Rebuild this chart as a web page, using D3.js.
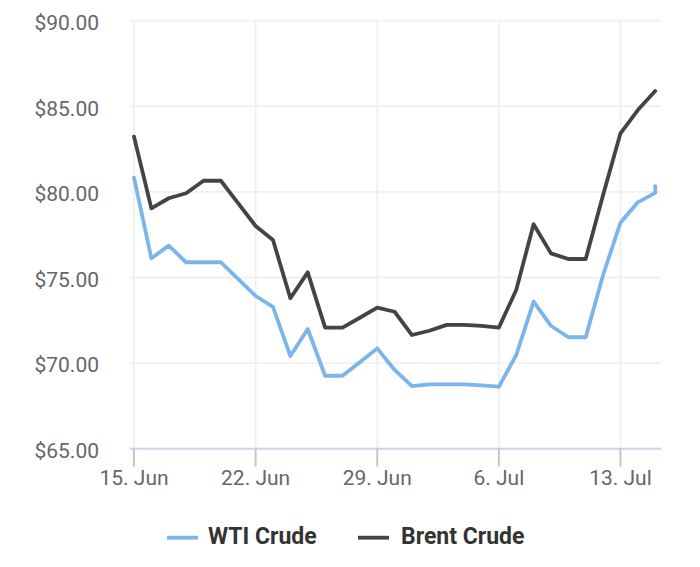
<!DOCTYPE html>
<html>
<head>
<meta charset="utf-8">
<script src="https://cdn.jsdelivr.net/npm/d3@7"></script>
<style>
  body { margin: 0; background: #fff; }
  svg { display: block; font-family: Roboto, "Noto Sans", sans-serif; }
</style>
</head>
<body>
<svg id="chart" width="700" height="567"></svg>
<script>
// daily closes, 15 Jun - 15 Jul
var dates = ["2020-06-15","2020-06-16","2020-06-17","2020-06-18","2020-06-19","2020-06-20","2020-06-21",
             "2020-06-22","2020-06-23","2020-06-24","2020-06-25","2020-06-26","2020-06-27","2020-06-28",
             "2020-06-29","2020-06-30","2020-07-01","2020-07-02","2020-07-03","2020-07-04","2020-07-05",
             "2020-07-06","2020-07-07","2020-07-08","2020-07-09","2020-07-10","2020-07-11","2020-07-12",
             "2020-07-13","2020-07-14","2020-07-15"];
// WTI has one extra reading on the last day
var wtiDates = dates.concat(["2020-07-15"]);
var wti = [80.83,76.12,76.86,75.89,75.89,75.89,74.90,
           73.92,73.29,70.41,71.99,69.26,69.26,70.05,
           70.86,69.60,68.66,68.76,68.76,68.76,68.70,
           68.62,70.47,73.59,72.18,71.51,71.51,75.15,
           78.20,79.39,79.94,80.34];
var brent = [83.23,79.04,79.63,79.92,80.65,80.65,79.33,
             78.01,77.19,73.79,75.30,72.07,72.07,72.65,
             73.24,73.00,71.64,71.89,72.23,72.23,72.17,
             72.07,74.27,78.11,76.41,76.08,76.08,79.82,
             83.42,84.78,85.89];
var seriesNames = ["WTI Crude", "Brent Crude"];
var seriesColors = ["#7cb5ec", "#434348"];
var tickDates = ["2020-06-15","2020-06-22","2020-06-29","2020-07-06","2020-07-13"];
var yTicks = [65, 70, 75, 80, 85, 90];

var parse = d3.timeParse("%Y-%m-%d");
var svg = d3.select("#chart");

var plotLeft = 130, plotRight = 661, plotTop = 20.7, plotBottom = 448.7;

var x = d3.scaleTime()
    .domain([parse(dates[0]), new Date(2020, 6, 15, 8)])
    .range([134, plotRight]);
var y = d3.scaleLinear().domain([65, 90]).range([plotBottom, plotTop]);

// grid
svg.append("g").selectAll("line")
    .data(yTicks).enter().append("line")
    .attr("x1", plotLeft).attr("x2", plotRight)
    .attr("y1", function(d) { return y(d); })
    .attr("y2", function(d) { return y(d); })
    .attr("stroke", "#f0f0f0").attr("stroke-width", 1.9);

svg.append("g").selectAll("line")
    .data(tickDates).enter().append("line")
    .attr("x1", function(d) { return x(parse(d)); })
    .attr("x2", function(d) { return x(parse(d)); })
    .attr("y1", plotTop).attr("y2", plotBottom)
    .attr("stroke", "#f0f0f0").attr("stroke-width", 1.9);

// x axis line + ticks
svg.append("line")
    .attr("x1", plotLeft).attr("x2", plotRight)
    .attr("y1", plotBottom).attr("y2", plotBottom)
    .attr("stroke", "#ccd6eb").attr("stroke-width", 1.9);

svg.append("g").selectAll("line")
    .data(tickDates).enter().append("line")
    .attr("x1", function(d) { return x(parse(d)); })
    .attr("x2", function(d) { return x(parse(d)); })
    .attr("y1", plotBottom).attr("y2", plotBottom + 18)
    .attr("stroke", "#c4c4c4").attr("stroke-width", 1.9);

var fmt = d3.timeFormat("%-d. %b");
svg.append("g").selectAll("text")
    .data(tickDates).enter().append("text")
    .attr("x", function(d) { return x(parse(d)); })
    .attr("y", 485)
    .attr("text-anchor", "middle")
    .attr("font-size", "21px")
    .attr("fill", "#666666")
    .text(function(d) { return fmt(parse(d)); });

// y labels
svg.append("g").selectAll("text")
    .data(yTicks).enter().append("text")
    .attr("x", 99)
    .attr("y", function(d) { return y(d) + 9.3; })
    .attr("text-anchor", "end")
    .attr("font-size", "21px")
    .attr("fill", "#666666")
    .text(function(d) { return "$" + d.toFixed(2); });

// lines
var line = d3.line()
    .x(function(d) { return x(d[0]); })
    .y(function(d) { return y(d[1]); });

var wtiData = wti.map(function(v, i) { return [parse(wtiDates[i]), v]; });
var brentData = brent.map(function(v, i) { return [parse(dates[i]), v]; });

[wtiData, brentData].forEach(function(data, i) {
    svg.append("path")
        .datum(data)
        .attr("d", line)
        .attr("fill", "none")
        .attr("stroke", seriesColors[i])
        .attr("stroke-width", 3.8)
        .attr("stroke-linejoin", "round")
        .attr("stroke-linecap", "round");
});

// legend
var legendX = [167, 358];
var legend = svg.append("g").selectAll("g")
    .data(seriesNames).enter().append("g")
    .attr("transform", function(d, i) { return "translate(" + legendX[i] + ",0)"; });
legend.append("line")
    .attr("x1", 0).attr("x2", 31)
    .attr("y1", 537.7).attr("y2", 537.7)
    .attr("stroke", function(d, i) { return seriesColors[i]; })
    .attr("stroke-width", 3.8);
legend.append("text")
    .attr("x", function(d, i) { return i == 0 ? 41 : 43; })
    .attr("y", 544.3)
    .attr("font-size", "23px")
    .attr("font-weight", "bold")
    .attr("fill", "#333333")
    .text(function(d) { return d; });
</script>
</body>
</html>
